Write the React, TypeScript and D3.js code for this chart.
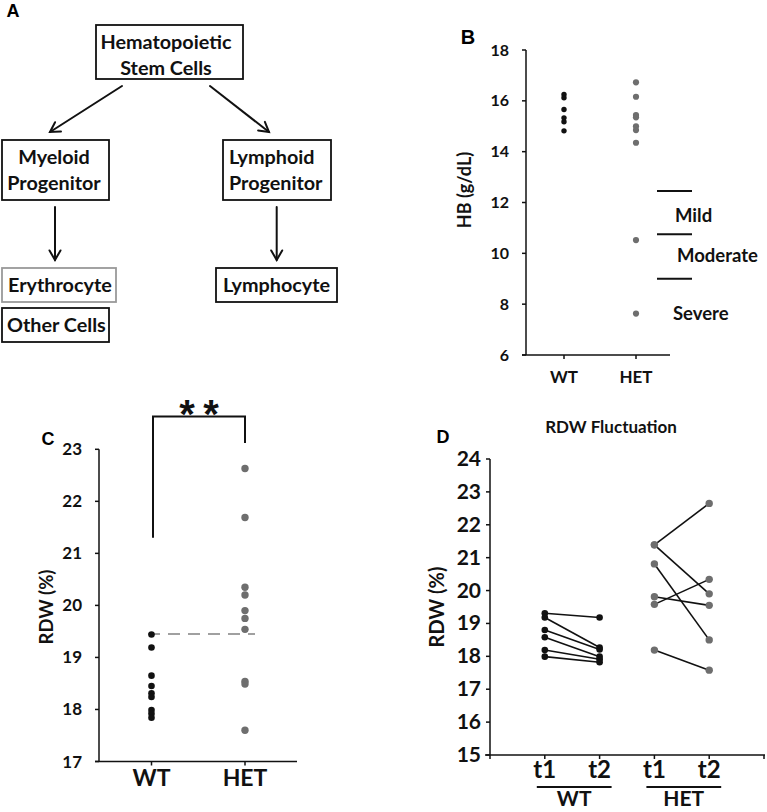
import React from "react";
import * as d3 from "d3";

// ---------- Data ----------
// Panel B: hemoglobin (g/dL)
const hbWT = [16.25, 16.12, 15.66, 15.33, 15.18, 14.82];
const hbHET = [16.73, 16.16, 15.44, 15.35, 15.0, 14.85, 14.35, 10.52, 7.63];
const hbTicks = [6, 8, 10, 12, 14, 16, 18];
const severityCutoffs = [12.45, 10.75, 9.0];
const severityNames = ["Mild", "Moderate", "Severe"];
const severityLabelAt = [11.5, 9.9, 7.65];

// Panel C: RDW (%)
const rdwWT = [19.44, 19.19, 18.65, 18.45, 18.31, 18.24, 17.99, 17.92, 17.84];
const rdwHET = [22.63, 21.69, 20.35, 20.2, 19.9, 19.75, 19.54, 18.54, 18.49, 17.6];
const rdwTicks = [17, 18, 19, 20, 21, 22, 23];
const rdwCutoff = 19.45;
const groups = ["WT", "HET"];

// Panel D: RDW fluctuation, paired t1 -> t2
const wtT1 = [19.31, 19.18, 18.8, 18.58, 18.19, 17.99];
const wtT2 = [19.18, 18.27, 18.21, 17.99, 17.91, 17.82];
const hetT1 = [21.39, 21.39, 20.81, 19.81, 19.58, 18.19];
const hetT2 = [22.65, 19.9, 18.5, 19.55, 20.34, 17.58];
const fluctTicks = [15, 16, 17, 18, 19, 20, 21, 22, 23, 24];
const timepoints = ["t1", "t2", "t1", "t2"];

const FONT = "Lato, 'Open Sans', sans-serif";
const LETTER = "'Liberation Sans', Arial, sans-serif";
const GREY = "#6e6e6e";

function Arrow({ x1, y1, x2, y2 }: { x1: number; y1: number; x2: number; y2: number }) {
  const ang = Math.atan2(y2 - y1, x2 - x1);
  const L = 11;
  const a = Math.PI / 6;
  const p1 = [x2 - L * Math.cos(ang - a), y2 - L * Math.sin(ang - a)];
  const p2 = [x2 - L * Math.cos(ang + a), y2 - L * Math.sin(ang + a)];
  return (
    <g stroke="#111" strokeWidth={2} fill="none" strokeLinecap="round">
      <line x1={x1} y1={y1} x2={x2} y2={y2} />
      <polyline points={`${p1[0]},${p1[1]} ${x2},${y2} ${p2[0]},${p2[1]}`} />
    </g>
  );
}

function PanelA() {
  const boxes = [
    { x: 96, y: 25, w: 147, h: 54, stroke: "#111" },
    { x: 2, y: 140, w: 107, h: 60, stroke: "#111" },
    { x: 223, y: 140, w: 108, h: 60, stroke: "#111" },
    { x: 2, y: 268, w: 114, h: 34, stroke: "#999" },
    { x: 2, y: 308, w: 107, h: 34, stroke: "#111" },
    { x: 216, y: 268, w: 121, h: 34, stroke: "#111" },
  ];
  const texts = [
    { t: "Hematopoietic", x: 166, y: 48.5, a: "middle" },
    { t: "Stem Cells", x: 166, y: 74.5, a: "middle" },
    { t: "Myeloid", x: 54, y: 163.5, a: "middle" },
    { t: "Progenitor", x: 54, y: 189.5, a: "middle" },
    { t: "Lymphoid", x: 229, y: 163.5, a: "start" },
    { t: "Progenitor", x: 229, y: 189.5, a: "start" },
    { t: "Erythrocyte", x: 8, y: 291.5, a: "start" },
    { t: "Other Cells", x: 7, y: 331.5, a: "start" },
    { t: "Lymphocyte", x: 223, y: 291.5, a: "start" },
  ];
  return (
    <g>
      <text x={13} y={17} fontFamily={LETTER} fontWeight="bold" fontSize={18} textAnchor="middle">A</text>
      {boxes.map((b, i) => (
        <rect key={i} x={b.x} y={b.y} width={b.w} height={b.h} fill="none" stroke={b.stroke} strokeWidth={1.8} />
      ))}
      {texts.map((t, i) => (
        <text key={i} x={t.x} y={t.y} textAnchor={t.a as any} fontFamily={FONT} fontWeight="bold" fontSize={19.8} fill="#111">
          {t.t}
        </text>
      ))}
      <Arrow x1={122} y1={86} x2={50} y2={132} />
      <Arrow x1={210} y1={86} x2={269} y2={132} />
      <Arrow x1={55} y1={207} x2={55} y2={260} />
      <Arrow x1={276.7} y1={207} x2={276.7} y2={260} />
    </g>
  );
}

function PanelB() {
  const y = d3.scaleLinear().domain([6, 18]).range([355, 50]);
  const x = d3.scalePoint<string>().domain(groups).range([564, 636]);
  const axisX = 526;
  return (
    <g>
      <text x={468} y={44} fontFamily={LETTER} fontWeight="bold" fontSize={20} textAnchor="middle">B</text>
      <line x1={axisX} y1={y(18)} x2={axisX} y2={y(6)} stroke="#111" strokeWidth={1.5} />
      <line x1={522} y1={y(6)} x2={670} y2={y(6)} stroke="#111" strokeWidth={1.5} />
      {hbTicks.map((t) => (
        <g key={t}>
          <line x1={522} x2={axisX} y1={y(t)} y2={y(t)} stroke="#111" strokeWidth={1.5} />
          <text x={509} y={y(t) + 5.5} textAnchor="end" fontFamily={FONT} fontWeight="bold" fontSize={16} fill="#111">{t}</text>
        </g>
      ))}
      {groups.map((g) => (
        <g key={g}>
          <line x1={x(g)} x2={x(g)} y1={y(6)} y2={y(6) + 4} stroke="#111" strokeWidth={1.5} />
          <text x={x(g)} y={383} textAnchor="middle" fontFamily={FONT} fontWeight="bold" fontSize={17} fill="#111">{g}</text>
        </g>
      ))}
      <text transform={`translate(471,190) rotate(-90)`} textAnchor="middle" fontFamily={FONT} fontWeight="bold" fontSize={18} fill="#111">HB (g/dL)</text>
      {hbWT.map((v, i) => <circle key={"w" + i} cx={x("WT")} cy={y(v)} r={2.7} fill="#111" />)}
      {hbHET.map((v, i) => <circle key={"h" + i} cx={x("HET")} cy={y(v)} r={3.1} fill={GREY} />)}
      {severityCutoffs.map((c, i) => (
        <line key={i} x1={657} x2={692} y1={y(c)} y2={y(c)} stroke="#111" strokeWidth={2} />
      ))}
      {severityNames.map((n, i) => (
        <text key={n} x={[675, 677, 673][i]} y={y(severityLabelAt[i]) + 6.5} fontFamily={FONT} fontWeight="bold" fontSize={18.5} fill="#111">{n}</text>
      ))}
    </g>
  );
}

function PanelC() {
  const y = d3.scaleLinear().domain([17, 23]).range([761.5, 449.3]);
  const x = d3.scalePoint<string>().domain(groups).range([151.5, 245]);
  const axisX = 99;
  return (
    <g>
      <text x={48} y={445} fontFamily={LETTER} fontWeight="bold" fontSize={18} textAnchor="middle">C</text>
      <line x1={axisX} y1={y(23)} x2={axisX} y2={y(17)} stroke="#111" strokeWidth={1.5} />
      <line x1={95} y1={y(17)} x2={297} y2={y(17)} stroke="#111" strokeWidth={1.5} />
      {rdwTicks.map((t) => (
        <g key={t}>
          <line x1={95} x2={axisX} y1={y(t)} y2={y(t)} stroke="#111" strokeWidth={1.5} />
          <text x={82} y={y(t) + 6} textAnchor="end" fontFamily={FONT} fontWeight="bold" fontSize={17} fill="#111">{t}</text>
        </g>
      ))}
      {groups.map((g) => (
        <g key={g}>
          <line x1={x(g)} x2={x(g)} y1={y(17)} y2={y(17) + 4} stroke="#111" strokeWidth={1.5} />
          <text x={x(g)} y={786} textAnchor="middle" fontFamily={FONT} fontWeight="bold" fontSize={23} fill="#111">{g}</text>
        </g>
      ))}
      <text transform={`translate(53,607) rotate(-90)`} textAnchor="middle" fontFamily={FONT} fontWeight="bold" fontSize={18.5} fill="#111">RDW (%)</text>
      <line x1={148} x2={255} y1={y(rdwCutoff)} y2={y(rdwCutoff)} stroke="#a0a0a0" strokeWidth={1.8} strokeDasharray="12 8" />
      {rdwWT.map((v, i) => <circle key={"w" + i} cx={x("WT")} cy={y(v)} r={3.3} fill="#111" />)}
      {rdwHET.map((v, i) => <circle key={"h" + i} cx={x("HET")} cy={y(v)} r={3.7} fill={GREY} />)}
      <polyline
        points={`${x("WT")! + 1.5},${y(21.3)} ${x("WT")! + 1.5},${y(23.63)} ${x("HET")},${y(23.63)} ${x("HET")},${y(23.12)}`}
        fill="none" stroke="#111" strokeWidth={2}
      />
      {[187, 211].map((cx, i) => (
        <text key={i} x={cx} y={427.5} textAnchor="middle" fontFamily={LETTER} fontWeight="bold" fontSize={40} fill="#111">*</text>
      ))}
    </g>
  );
}

function PanelD() {
  const y = d3.scaleLinear().domain([15, 24]).range([755, 459]);
  const x = d3.scaleLinear().domain([0, 5]).range([490, 764]);
  const axisX = 490;
  const pairs = [
    { t1: wtT1, t2: wtT2, i: 1, color: "#111", r: 3.3 },
    { t1: hetT1, t2: hetT2, i: 3, color: GREY, r: 3.7 },
  ];
  return (
    <g>
      <text x={443} y={443} fontFamily={LETTER} fontWeight="bold" fontSize={18} textAnchor="middle">D</text>
      <text x={611} y={433} textAnchor="middle" fontFamily={FONT} fontWeight="bold" fontSize={17} fill="#111">RDW Fluctuation</text>
      <line x1={axisX} y1={y(24)} x2={axisX} y2={y(15)} stroke="#111" strokeWidth={1.5} />
      <line x1={485} y1={y(15)} x2={765} y2={y(15)} stroke="#111" strokeWidth={1.5} />
      {fluctTicks.map((t) => (
        <g key={t}>
          <line x1={486} x2={axisX} y1={y(t)} y2={y(t)} stroke="#111" strokeWidth={1.5} />
          <text x={481} y={y(t) + 7} textAnchor="end" fontFamily={FONT} fontWeight="bold" fontSize={21} fill="#111">{t}</text>
        </g>
      ))}
      {d3.range(6).map((k) => (
        <line key={k} x1={x(k)} x2={x(k)} y1={y(15)} y2={y(15) + 4} stroke="#111" strokeWidth={1.5} />
      ))}
      {timepoints.map((t, k) => (
        <text key={k} x={x(k + 1)} y={778} textAnchor="middle" fontFamily={FONT} fontWeight="bold" fontSize={24} fill="#111">{t}</text>
      ))}
      {groups.map((g, k) => {
        const xa = x(1 + 2 * k) - 8, xb = x(2 + 2 * k) + 12;
        return (
          <g key={g}>
            <line x1={xa} x2={xb} y1={787} y2={787} stroke="#111" strokeWidth={1.8} />
            <text x={(xa + xb) / 2} y={806} textAnchor="middle" fontFamily={FONT} fontWeight="bold" fontSize={21} fill="#111">{g}</text>
          </g>
        );
      })}
      <text transform={`translate(444,607) rotate(-90)`} textAnchor="middle" fontFamily={FONT} fontWeight="bold" fontSize={20} fill="#111">RDW (%)</text>
      {pairs.map((p, pi) => (
        <g key={pi}>
          {p.t1.map((v, j) => (
            <line key={j} x1={x(p.i)} y1={y(v)} x2={x(p.i + 1)} y2={y(p.t2[j])} stroke="#111" strokeWidth={1.6} />
          ))}
          {p.t1.map((v, j) => <circle key={"a" + j} cx={x(p.i)} cy={y(v)} r={p.r} fill={p.color} />)}
          {p.t2.map((v, j) => <circle key={"b" + j} cx={x(p.i + 1)} cy={y(v)} r={p.r} fill={p.color} />)}
        </g>
      ))}
    </g>
  );
}

export default function App() {
  return (
    <svg width={767} height={812} style={{ position: "absolute", left: 0, top: 0, background: "#fff" }}>
      <rect width={767} height={812} fill="#fff" />
      <PanelA />
      <PanelB />
      <PanelC />
      <PanelD />
    </svg>
  );
}
